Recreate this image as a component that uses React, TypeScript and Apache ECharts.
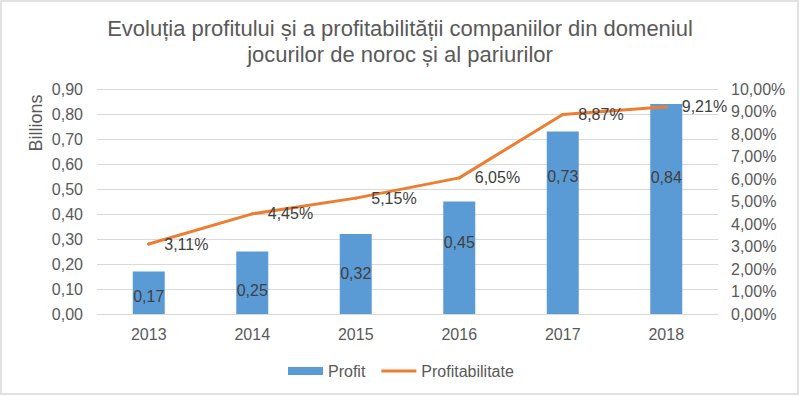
import React, { useEffect, useRef } from "react";
import * as echarts from "echarts";

const years = ["2013", "2014", "2015", "2016", "2017", "2018"];
const profit = [0.17, 0.25, 0.32, 0.45, 0.73, 0.84];
const profitability = [3.11, 4.45, 5.15, 6.05, 8.87, 9.21];
const titleLines = [
  "Evoluția profitului și a profitabilității companiilor din domeniul",
  "jocurilor de noroc și al pariurilor",
];
const seriesNames = ["Profit", "Profitabilitate"];
const leftAxisName = "Billions";

// label vertical shifts (styling, as placed in the original)
const barLabelShift = [4, 8, -1, -15, -46, -32];

const FONT = "'Liberation Sans', Arial, sans-serif";
const comma = (v: number) => v.toFixed(2).replace(".", ",");

export default function App() {
  const ref = useRef<HTMLDivElement>(null);
  useEffect(() => {
    if (!ref.current) return;
    const chart = echarts.init(ref.current, null, { renderer: "svg" });
    chart.setOption({
      animation: false,
      backgroundColor: "#ffffff",
      textStyle: { fontFamily: FONT },
      title: {
        text: titleLines.join("\n"),
        left: "center",
        top: 15,
        padding: 0,
        textStyle: {
          fontFamily: FONT,
          fontSize: 22,
          lineHeight: 26,
          fontWeight: "normal",
          color: "#595959",
        },
      },
      legend: {
        left: 288,
        top: 363,
        padding: 0,
        itemWidth: 35,
        itemHeight: 8,
        itemGap: 16,
        textStyle: { fontFamily: FONT, fontSize: 16, color: "#595959" },
        data: [
          { name: seriesNames[0], icon: "rect" },
          {
            name: seriesNames[1],
            icon: "path://M0,0 L36,0 L36,3 L0,3 Z",
            itemStyle: { color: "#ED7D31", borderWidth: 0 },
          },
        ],
      },
      grid: { left: 97, right: 82, top: 89, bottom: 82, containLabel: false },
      xAxis: {
        type: "category",
        data: years,
        axisTick: { show: false },
        axisLine: { lineStyle: { color: "#d9d9d9", width: 1 } },
        axisLabel: {
          fontFamily: FONT,
          fontSize: 16,
          color: "#595959",
          margin: 12,
        },
      },
      yAxis: [
        {
          type: "value",
          min: 0,
          max: 0.9,
          interval: 0.1,
          axisLine: { show: false },
          axisTick: { show: false },
          splitLine: { lineStyle: { color: "#d9d9d9", width: 1 } },
          axisLabel: {
            fontFamily: FONT,
            fontSize: 16,
            color: "#595959",
            margin: 14,
            formatter: (v: number) => comma(v),
          },
        },
        {
          type: "value",
          min: 0,
          max: 10,
          interval: 1,
          axisLine: { show: false },
          axisTick: { show: false },
          splitLine: { show: false },
          axisLabel: {
            fontFamily: FONT,
            fontSize: 16,
            color: "#595959",
            margin: 13,
            formatter: (v: number) => comma(v) + "%",
          },
        },
      ],
      series: [
        {
          name: seriesNames[0],
          type: "bar",
          yAxisIndex: 0,
          barWidth: 32,
          itemStyle: { color: "#5B9BD5" },
          label: {
            show: true,
            position: "inside",
            fontFamily: FONT,
            fontSize: 16,
            color: "#404040",
            formatter: (p: any) => comma(p.value),
          },
          data: profit.map((v, i) => ({
            value: v,
            label: { offset: [0, barLabelShift[i]] },
          })),
        },
        {
          name: seriesNames[1],
          type: "line",
          yAxisIndex: 1,
          symbol: "circle",
          symbolSize: 3,
          showSymbol: true,
          lineStyle: { color: "#ED7D31", width: 3, cap: "round", join: "round" },
          itemStyle: { color: "#ED7D31", borderWidth: 0 },
          label: {
            show: true,
            position: "right",
            distance: 14,
            fontFamily: FONT,
            fontSize: 16,
            color: "#404040",
            formatter: (p: any) => comma(p.value) + "%",
          },
          data: profitability,
        },
      ],
      graphic: [
        {
          type: "rect",
          shape: { x: 1, y: 1, width: 797, height: 393 },
          style: { fill: "none", stroke: "#d9d9d9", lineWidth: 1.5 },
          silent: true,
        },
        {
          type: "text",
          x: 36,
          y: 123,
          rotation: Math.PI / 2,
          style: {
            text: leftAxisName,
            fontFamily: FONT,
            fontSize: 18,
            fill: "#595959",
            align: "center",
            verticalAlign: "middle",
          },
        },
      ],
    });
    return () => chart.dispose();
  }, []);
  return (
    <div
      ref={ref}
      style={{ position: "fixed", left: 0, top: 0, width: 800, height: 396 }}
    />
  );
}
